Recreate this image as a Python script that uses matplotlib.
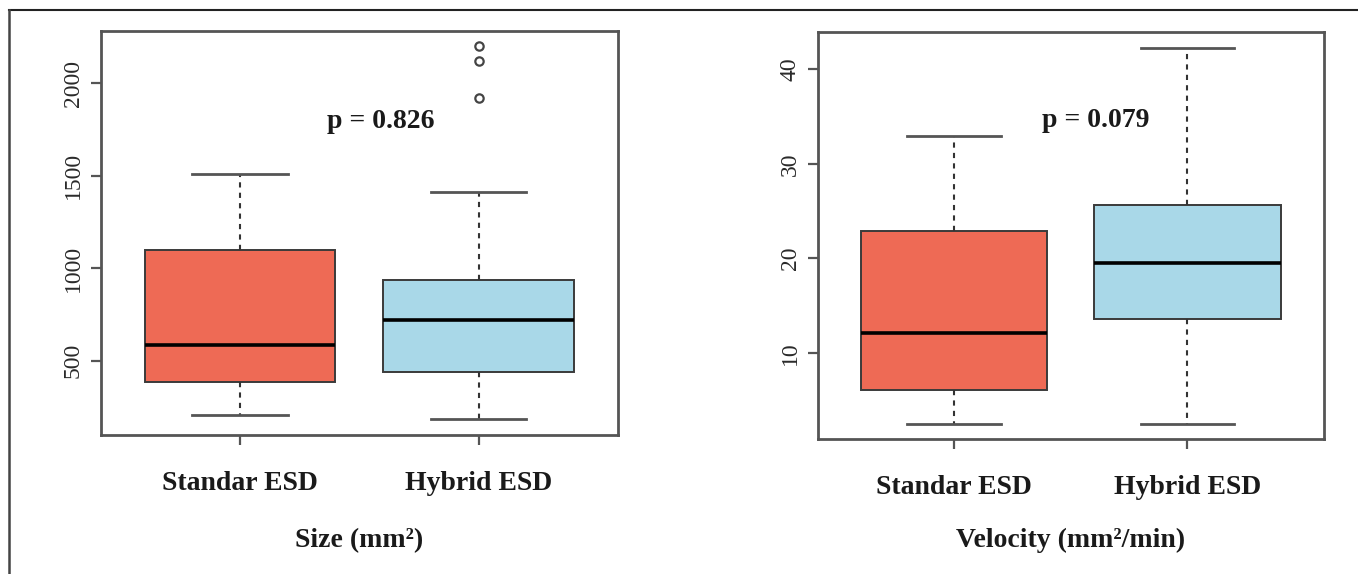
import matplotlib.pyplot as plt
from matplotlib.lines import Line2D

plt.rcParams['font.family'] = ['Liberation Serif', 'DejaVu Serif']

groups = ['Standar ESD', 'Hybrid ESD']
colors = ['#EE6A55', '#A9D8E8']

# Size (mm2): lower whisker, Q1, median, Q3, upper whisker
size_lo = [208, 184]
size_q1 = [385, 441]
size_med = [583, 721]
size_q3 = [1097, 939]
size_hi = [1508, 1413]
size_out = [[], [1923, 2120, 2204]]

# Velocity (mm2/min)
vel_lo = [2.5, 2.5]
vel_q1 = [6.1, 13.6]
vel_med = [12.1, 19.5]
vel_q3 = [22.9, 25.6]
vel_hi = [33.0, 42.3]
vel_out = [[], []]

fig = plt.figure(figsize=(13.58, 5.74), dpi=100)


def draw(ax, lo, q1, med, q3, hi, out, ylim, yticks, ptext, ppos, title):
    stats = [dict(whislo=lo[i], q1=q1[i], med=med[i], q3=q3[i], whishi=hi[i],
                  fliers=out[i]) for i in range(2)]
    bp = ax.bxp(stats, positions=[1, 2], widths=0.8, capwidths=0.4,
                patch_artist=True, showfliers=True,
                boxprops=dict(edgecolor='#3a3a3a', linewidth=1.4),
                medianprops=dict(color='black', linewidth=2.6),
                whiskerprops=dict(color='#333333', linewidth=1.5, linestyle=(0, (2.5, 2.5))),
                capprops=dict(color='#555555', linewidth=2),
                flierprops=dict(marker='o', markersize=6, markerfacecolor='none',
                                markeredgecolor='#444444', markeredgewidth=1.6))
    for patch, c in zip(bp['boxes'], colors):
        patch.set_facecolor(c)
    ax.set_xlim(0.415, 2.585)
    ax.set_ylim(*ylim)
    ax.set_yticks(yticks)
    ax.set_xticks([1, 2])
    ax.set_xticklabels(groups, fontsize=20, fontweight='bold', color='#1a1a1a')
    for lab in ax.get_yticklabels():
        lab.set_rotation(90)
        lab.set_va('center')
    ax.tick_params(axis='y', labelsize=17, length=7, width=1.6, color='#555555',
                   pad=5, labelcolor='#2a2a2a')
    ax.tick_params(axis='x', length=7, width=1.6, color='#555555', pad=19)
    for s in ax.spines.values():
        s.set_linewidth(2)
        s.set_color('#555555')
    ax.text(ppos[0], ppos[1], ptext, fontsize=20, fontweight='bold',
            ha='center', va='center', color='#1a1a1a')
    bb = ax.get_position()
    fig.text((bb.x0 + bb.x1) / 2, 0.059, title, fontsize=20, fontweight='bold',
             ha='center', va='center', color='#1a1a1a')


ax1 = fig.add_axes([0.0741, 0.2422, 0.381, 0.7038])
draw(ax1, size_lo, size_q1, size_med, size_q3, size_hi, size_out,
     (99, 2283), [500, 1000, 1500, 2000], 'p = 0.826', (1.59, 1794), 'Size (mm²)')

ax2 = fig.add_axes([0.602, 0.2352, 0.373, 0.709])
draw(ax2, vel_lo, vel_q1, vel_med, vel_q3, vel_hi, vel_out,
     (0.9, 43.95), [10, 20, 30, 40], 'p = 0.079', (1.607, 34.6), 'Velocity (mm²/min)')

# outer frame (top and left only)
fig.add_artist(Line2D([9 / 1358, 1], [1 - 10 / 574, 1 - 10 / 574],
                      transform=fig.transFigure, color='#222222', linewidth=1.5))
fig.add_artist(Line2D([9 / 1358, 9 / 1358], [0, 1 - 10 / 574],
                      transform=fig.transFigure, color='#444444', linewidth=1.8))

fig.savefig('out.png', dpi=100)
